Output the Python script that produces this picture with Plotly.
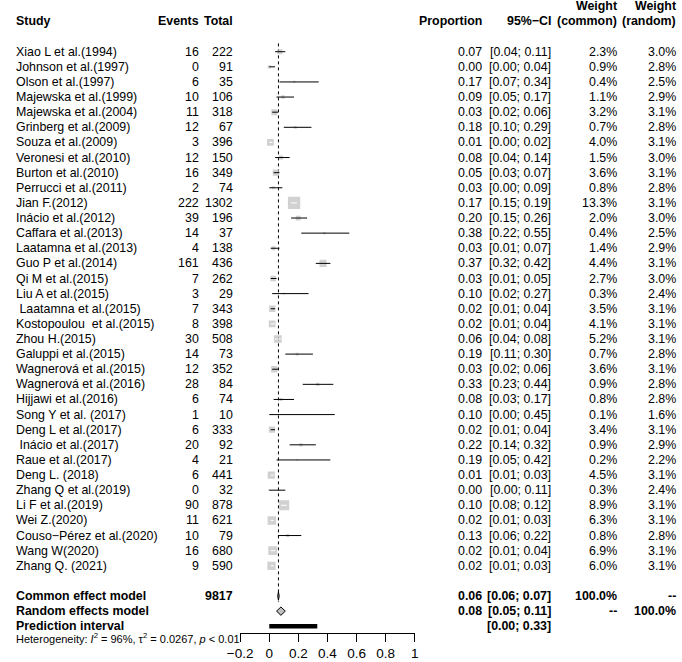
import plotly.graph_objects as go

W, H = 682, 662
FONT = "Liberation Sans"
FS = 12.4

studies = ["Xiao L et al.(1994)", "Johnson et al.(1997)", "Olson et al.(1997)",
           "Majewska et al.(1999)", "Majewska et al.(2004)", "Grinberg et al.(2009)",
           "Souza et al.(2009)", "Veronesi et al.(2010)", "Burton et al.(2010)",
           "Perrucci et al.(2011)", "Jian F.(2012)", "Inácio et al.(2012)",
           "Caffara et al.(2013)", "Laatamna et al.(2013)", "Guo P et al.(2014)",
           "Qi M et al.(2015)", "Liu A et al.(2015)", "\u00a0Laatamna et al.(2015)",
           "Kostopoulou \u00a0et al.(2015)", "Zhou H.(2015)", "Galuppi et al.(2015)",
           "Wagnerová et al.(2015)", "Wagnerová et al.(2016)", "Hijjawi et al.(2016)",
           "Song Y et al. (2017)", "Deng L et al.(2017)", "\u00a0Inácio et al.(2017)",
           "Raue et al.(2017)", "Deng L. (2018)", "Zhang Q et al.(2019)",
           "Li F et al.(2019)", "Wei Z.(2020)", "Couso−Pérez et al.(2020)",
           "Wang W(2020)", "Zhang Q. (2021)"]
events = [16, 0, 6, 10, 11, 12, 3, 12, 16, 2, 222, 39, 14, 4, 161, 7, 3, 7, 8, 30,
          14, 12, 28, 6, 1, 6, 20, 4, 6, 0, 90, 11, 10, 16, 9]
totals = [222, 91, 35, 106, 318, 67, 396, 150, 349, 74, 1302, 196, 37, 138, 436, 262,
          29, 343, 398, 508, 73, 352, 84, 74, 10, 333, 92, 21, 441, 32, 878, 621, 79,
          680, 590]
prop = [0.07, 0.00, 0.17, 0.09, 0.03, 0.18, 0.01, 0.08, 0.05, 0.03, 0.17, 0.20, 0.38,
        0.03, 0.37, 0.03, 0.10, 0.02, 0.02, 0.06, 0.19, 0.03, 0.33, 0.08, 0.10, 0.02,
        0.22, 0.19, 0.01, 0.00, 0.10, 0.02, 0.13, 0.02, 0.02]
lower = [0.04, 0.00, 0.07, 0.05, 0.02, 0.10, 0.00, 0.04, 0.03, 0.00, 0.15, 0.15, 0.22,
         0.01, 0.32, 0.01, 0.02, 0.01, 0.01, 0.04, 0.11, 0.02, 0.23, 0.03, 0.00, 0.01,
         0.14, 0.05, 0.01, 0.00, 0.08, 0.01, 0.06, 0.01, 0.01]
upper = [0.11, 0.04, 0.34, 0.17, 0.06, 0.29, 0.02, 0.14, 0.07, 0.09, 0.19, 0.26, 0.55,
         0.07, 0.42, 0.05, 0.27, 0.04, 0.04, 0.08, 0.30, 0.06, 0.44, 0.17, 0.45, 0.04,
         0.32, 0.42, 0.03, 0.11, 0.12, 0.03, 0.22, 0.04, 0.03]
w_common = [2.3, 0.9, 0.4, 1.1, 3.2, 0.7, 4.0, 1.5, 3.6, 0.8, 13.3, 2.0, 0.4, 1.4, 4.4,
            2.7, 0.3, 3.5, 4.1, 5.2, 0.7, 3.6, 0.9, 0.8, 0.1, 3.4, 0.9, 0.2, 4.5, 0.3,
            8.9, 6.3, 0.8, 6.9, 6.0]
w_random = [3.0, 2.8, 2.5, 2.9, 3.1, 2.8, 3.1, 3.0, 3.1, 2.8, 3.1, 3.0, 2.5, 2.9, 3.1,
            3.0, 2.4, 3.1, 3.1, 3.1, 2.8, 3.1, 2.8, 2.8, 1.6, 3.1, 2.9, 2.2, 3.1, 2.4,
            3.1, 3.1, 2.8, 3.1, 3.1]

total_n = 9817
common_est, common_lo, common_hi = 0.063, 0.058, 0.068
random_est, random_lo, random_hi = 0.08, 0.05, 0.11
pred_lo, pred_hi = 0.00, 0.33
het_text = "Heterogeneity: <i>I</i><sup>2</sup> = 96%, τ<sup>2</sup> = 0.0267, <i>p</i> &lt; 0.01"

tick_vals = [-0.2, 0, 0.2, 0.4, 0.6, 0.8, 1]
tick_text = ["−0.2", "0", "0.2", "0.4", "0.6", "0.8", "1"]

# ---- layout geometry (pixels) ----
ROW0, ROWH = 51.7, 15.12
AX_Y = 633
X_LEFT, X_RIGHT = 233, 412
PX_PER_UNIT = (X_RIGHT - X_LEFT) / 1.2
SCALE_MAX = 12.3  # px side of largest square
y_top = -ROW0 / ROWH
y_bot = (AX_Y - ROW0) / ROWH

n = len(studies)
rows = list(range(n))
ROW_COMMON, ROW_RANDOM, ROW_PRED = n + 1, n + 2, n + 3
HET_Y_PX = 638

est = [e / t for e, t in zip(events, totals)]
wmax = max(w_common)
sides = [SCALE_MAX * (w / wmax) ** 0.5 for w in w_common]

fig = go.Figure()

# reference (common effect) dotted line
fig.add_trace(go.Scatter(x=[common_est, common_est], y=[-0.55, ROW_COMMON + 0.4],
                         mode="lines", line=dict(color="black", width=1, dash="dot"),
                         hoverinfo="skip"))

# squares
fig.add_trace(go.Scatter(x=est, y=rows, mode="markers",
                         marker=dict(symbol="square", size=sides, color="#BEBEBE",
                                     line=dict(width=0)),
                         hoverinfo="skip"))

# CI lines (white when the interval lies inside its square)
bx, by, wx, wy = [], [], [], []
for i in range(n):
    hw = sides[i] / 2 / PX_PER_UNIT
    inside = (upper[i] - est[i]) < 0.9 * hw and (est[i] - lower[i]) < 0.9 * hw
    tx, ty = (wx, wy) if inside else (bx, by)
    tx += [lower[i], upper[i], None]
    ty += [i, i, None]
fig.add_trace(go.Scatter(x=bx, y=by, mode="lines", line=dict(color="black", width=1),
                         hoverinfo="skip"))
fig.add_trace(go.Scatter(x=wx, y=wy, mode="lines", line=dict(color="white", width=1),
                         hoverinfo="skip"))

# diamonds
dh = 4.2 / ROWH
for (lo, es, hi, r) in [(common_lo, common_est, common_hi, ROW_COMMON),
                        (random_lo, random_est, random_hi, ROW_RANDOM)]:
    fig.add_trace(go.Scatter(x=[lo, es, hi, es, lo], y=[r, r - dh, r, r + dh, r],
                             mode="lines", fill="toself", fillcolor="#BEBEBE",
                             line=dict(color="black", width=1), hoverinfo="skip"))

# prediction interval
fig.add_trace(go.Scatter(x=[pred_lo, pred_hi], y=[ROW_PRED, ROW_PRED], mode="lines",
                         line=dict(color="black", width=4.5), hoverinfo="skip"))

ann = []


def txt(xpx, row, s, anchor, bold=False, size=FS, paper_y=None):
    if bold:
        s = "<b>" + s + "</b>"
    d = dict(xref="paper", x=xpx / W, text=s, xanchor=anchor, yanchor="middle",
             showarrow=False, font=dict(family=FONT, size=size, color="black"))
    if paper_y is None:
        d.update(yref="y", y=row)
    else:
        d.update(yref="paper", y=paper_y)
    ann.append(d)


X_STUDY, X_EV, X_TOT, X_PROP, X_CI, X_WC, X_WR = 1, 193, 228, 483, 554, 622, 682

# headers
txt(X_STUDY, -2, "Study", "left", True)
txt(X_EV, -2, "Events", "right", True)
txt(X_TOT, -2, "Total", "right", True)
txt(X_PROP, -2, "Proportion", "right", True)
txt(X_CI, -2, "95%−CI", "right", True)
txt(X_WC, -3, "Weight", "right", True)
txt(X_WC, -2, "(common)", "right", True)
txt(X_WR, -3, "Weight", "right", True)
txt(X_WR, -2, "(random)", "right", True)

for i in range(n):
    txt(X_STUDY, i, studies[i], "left")
    txt(X_EV, i, str(events[i]), "right")
    txt(X_TOT, i, str(totals[i]), "right")
    txt(X_PROP, i, f"{prop[i]:.2f}", "right")
    txt(X_CI, i, f"[{lower[i]:.2f}; {upper[i]:.2f}]", "right")
    txt(X_WC, i, f"{w_common[i]:.1f}%", "right")
    txt(X_WR, i, f"{w_random[i]:.1f}%", "right")

txt(X_STUDY, ROW_COMMON, "Common effect model", "left", True)
txt(X_TOT, ROW_COMMON, str(total_n), "right", True)
txt(X_PROP, ROW_COMMON, f"{common_est:.2f}", "right", True)
txt(X_CI, ROW_COMMON, f"[{common_lo:.2f}; {common_hi:.2f}]", "right", True)
txt(X_WC, ROW_COMMON, "100.0%", "right", True)
txt(X_WR, ROW_COMMON, "--", "right", True)

txt(X_STUDY, ROW_RANDOM, "Random effects model", "left", True)
txt(X_PROP, ROW_RANDOM, f"{random_est:.2f}", "right", True)
txt(X_CI, ROW_RANDOM, f"[{random_lo:.2f}; {random_hi:.2f}]", "right", True)
txt(X_WC, ROW_RANDOM, "--", "right", True)
txt(X_WR, ROW_RANDOM, "100.0%", "right", True)

txt(X_STUDY, ROW_PRED, "Prediction interval", "left", True)
txt(X_CI, ROW_PRED, f"[{pred_lo:.2f}; {pred_hi:.2f}]", "right", True)

txt(X_STUDY, None, het_text, "left", False, 11.0, paper_y=1 - HET_Y_PX / H)

fig.update_layout(
    width=W, height=H, autosize=False,
    margin=dict(l=0, r=0, t=0, b=0, pad=0),
    paper_bgcolor="white", plot_bgcolor="rgba(0,0,0,0)",
    showlegend=False,
    annotations=ann,
    xaxis=dict(domain=[X_LEFT / W, X_RIGHT / W], range=[-0.2, 1],
               showline=True, linecolor="black", linewidth=1,
               ticks="outside", ticklen=8, tickcolor="black", tickwidth=1,
               tickvals=tick_vals, ticktext=tick_text,
               tickfont=dict(family=FONT, size=13.5, color="black"),
               showgrid=False, zeroline=False, fixedrange=True),
    yaxis=dict(domain=[(H - AX_Y) / H, 1], range=[y_bot, y_top], visible=False,
               showgrid=False, zeroline=False, fixedrange=True),
)

fig.write_html("out.html",
               config={"displayModeBar": False, "staticPlot": True},
               post_script="document.body.style.margin='0';"
                           "document.body.style.overflow='hidden';")
